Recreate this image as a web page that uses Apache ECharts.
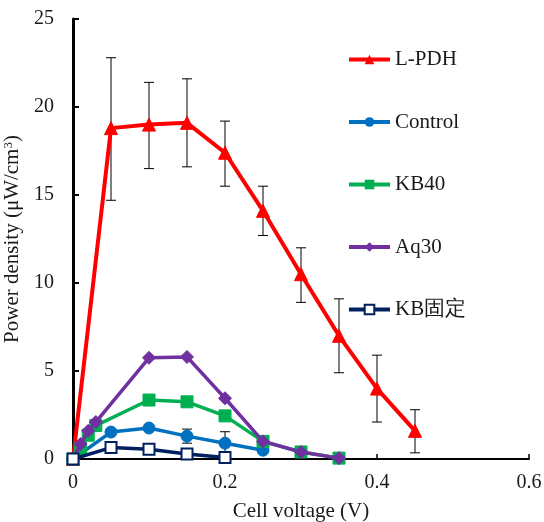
<!DOCTYPE html>
<html>
<head>
<meta charset="utf-8">
<script src="https://cdn.jsdelivr.net/npm/echarts@6/dist/echarts.min.js"></script>
<style>html,body{margin:0;padding:0;background:#fff}#c{width:544px;height:522px}</style>
</head>
<body>
<div id="c"></div>
<script>
// Data
const lpdhX = [0, 0.05, 0.1, 0.15, 0.2, 0.25, 0.3, 0.35, 0.4, 0.45];
const lpdhY = [0, 18.8, 19.0, 19.1, 17.4, 14.1, 10.5, 7.0, 4.0, 1.6];
const lpdhHigh = [null, 22.8, 21.4, 21.6, 19.2, 15.5, 12.0, 9.1, 5.9, 2.8];
const lpdhLow = [null, 14.7, 16.5, 16.6, 15.5, 12.7, 8.9, 4.9, 2.1, 0.35];

const controlX = [0, 0.05, 0.1, 0.15, 0.2, 0.25];
const controlY = [0, 1.53, 1.76, 1.3, 0.9, 0.5];
const controlHigh = [null, null, null, 1.7, 1.55, null];
const controlLow = [null, null, null, 0.9, 0.25, null];

const kb40X = [0, 0.01, 0.02, 0.03, 0.1, 0.15, 0.2, 0.25, 0.3, 0.35];
const kb40Y = [0, 0.6, 1.35, 1.9, 3.35, 3.25, 2.45, 1.0, 0.4, 0.05];

const aq30X = [0, 0.01, 0.02, 0.03, 0.1, 0.15, 0.2, 0.25, 0.3, 0.35];
const aq30Y = [0, 0.85, 1.6, 2.1, 5.75, 5.8, 3.45, 1.0, 0.4, 0.05];

const kbfixX = [0, 0.05, 0.1, 0.15, 0.2];
const kbfixY = [0, 0.65, 0.55, 0.28, 0.08];

const xTicks = [0, 0.2, 0.4, 0.6];
const yTicks = [0, 5, 10, 15, 20, 25];

const FONT = 'Liberation Serif';
const TXT = '#1a1a1a';

function zip(xs, ys) { return xs.map((x, i) => [x, ys[i]]); }
function errData(xs, hi, lo) {
  const out = [];
  xs.forEach((x, i) => { if (hi[i] != null) out.push([x, lo[i], hi[i]]); });
  return out;
}

function errRender(params, api) {
  const x = api.value(0);
  const lo = api.coord([x, api.value(1)]);
  const hi = api.coord([x, api.value(2)]);
  const w = 5;
  const style = { stroke: '#000', lineWidth: 1 };
  return {
    type: 'group',
    children: [
      { type: 'line', shape: { x1: lo[0], y1: lo[1], x2: hi[0], y2: hi[1] }, style },
      { type: 'line', shape: { x1: hi[0] - w, y1: hi[1], x2: hi[0] + w, y2: hi[1] }, style },
      { type: 'line', shape: { x1: lo[0] - w, y1: lo[1], x2: lo[0] + w, y2: lo[1] }, style }
    ]
  };
}

function lineSeries(name, xs, ys, color, symbol, size, width, z, extra) {
  return Object.assign({
    name, type: 'line', data: zip(xs, ys),
    symbol, symbolSize: size,
    lineStyle: { color, width },
    itemStyle: { color, borderColor: color },
    z, animation: false
  }, extra || {});
}

const chart = echarts.init(document.getElementById('c'), null, { renderer: 'canvas' });
chart.setOption({
  animation: false,
  backgroundColor: '#fff',
  textStyle: { fontFamily: FONT },
  grid: { left: 73, right: 15, top: 19, bottom: 63, containLabel: false, outerBoundsMode: 'none' },
  xAxis: {
    type: 'value', min: 0, max: 0.6, interval: 0.2,
    name: 'Cell voltage (V)', nameLocation: 'middle', nameGap: 42,
    nameTextStyle: { fontFamily: FONT, fontSize: 21, color: TXT },
    axisLine: { show: true, onZero: false, lineStyle: { color: '#000', width: 2 } },
    axisTick: { show: true, inside: true, length: 5, lineStyle: { color: '#000', width: 1.5 } },
    axisLabel: { fontFamily: FONT, fontSize: 20, color: TXT, margin: 14,
      formatter: v => String(Math.round(v * 10) / 10) },
    splitLine: { show: false }
  },
  yAxis: {
    type: 'value', min: 0, max: 25, interval: 5,
    name: 'Power density (μW/cm{sup|3})', nameLocation: 'middle', nameGap: 33,
    nameTextStyle: { fontFamily: FONT, fontSize: 21, color: TXT,
      rich: { sup: { fontFamily: FONT, fontSize: 13, color: TXT, verticalAlign: 'top', padding: [0, 0, 9, 0] } } },
    axisLine: { show: true, onZero: false, lineStyle: { color: '#000', width: 3 } },
    axisTick: { show: true, inside: true, length: 6, lineStyle: { color: '#000', width: 2 } },
    axisLabel: { fontFamily: FONT, fontSize: 20, color: TXT, margin: 19 },
    splitLine: { show: false }
  },
  legend: {
    orient: 'vertical', left: 342, top: 44, itemGap: 41.5,
    itemWidth: 41, itemHeight: 12,
    lineStyle: { width: 4 },
    textStyle: { fontFamily: FONT, fontSize: 21, color: TXT,
      rich: { t: { fontFamily: FONT, fontSize: 21, color: TXT } } },
    formatter: n => '{t|' + n + '}',
    data: ['L-PDH', 'Control', 'KB40', 'Aq30', 'KB固定']
  },
  series: [
    { type: 'custom', name: 'errL', renderItem: errRender, data: errData(lpdhX, lpdhHigh, lpdhLow),
      encode: { x: 0, y: [1, 2] }, z: 1, silent: true },
    { type: 'custom', name: 'errC', renderItem: errRender, data: errData(controlX, controlHigh, controlLow),
      encode: { x: 0, y: [1, 2] }, z: 1, silent: true },
    lineSeries('L-PDH', lpdhX, lpdhY, '#FF0000', 'triangle', 13, 4, 3),
    lineSeries('Control', controlX, controlY, '#0070C0', 'circle', 12, 3.5, 4),
    lineSeries('KB40', kb40X, kb40Y, '#00B050', 'rect', 12, 3.5, 5),
    lineSeries('Aq30', aq30X, aq30Y, '#7030A0', 'diamond', 13, 3.5, 6),
    lineSeries('KB固定', kbfixX, kbfixY, '#002060', 'emptyRect', 11, 3.5, 7,
      { itemStyle: { color: '#002060', borderWidth: 2 } })
  ]
});
</script>
</body>
</html>
